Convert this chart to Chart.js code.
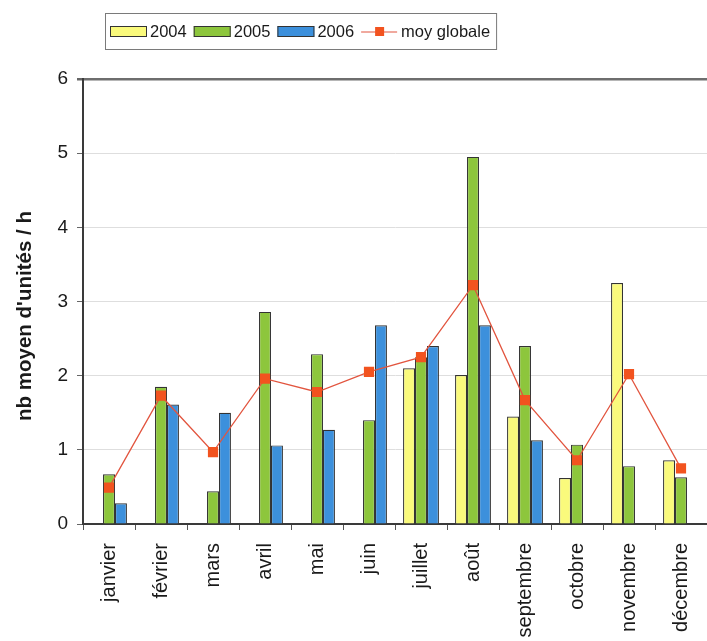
<!DOCTYPE html>
<html lang="fr">
<head>
<meta charset="utf-8">
<title>nb moyen d'unités / h</title>
<script src="https://cdn.jsdelivr.net/npm/chart.js@4/dist/chart.umd.min.js"></script>
<style>
  html, body { margin: 0; padding: 0; background: #ffffff; }
  #wrap { width: 707px; height: 641px; }
</style>
</head>
<body>
<div id="wrap"><canvas id="chart" width="707" height="641"></canvas></div>
<script>
// Mois
const mois = ['janvier', 'février', 'mars', 'avril', 'mai', 'juin', 'juillet',
              'août', 'septembre', 'octobre', 'novembre', 'décembre'];

// Moyennes mensuelles par année (nb moyen d'unités / h)
const annee2004 = [null, null, null, null, null, null, 2.10, 2.01, 1.45, 0.62, 3.25, 0.86];
const annee2005 = [0.67, 1.85, 0.44, 2.86, 2.29, 1.40, 2.25, 4.95, 2.40, 1.07, 0.78, 0.63];
const annee2006 = [0.28, 1.61, 1.50, 1.06, 1.27, 2.68, 2.40, 2.68, 1.13, null, null, null];
const moyGlobale = [0.49, 1.73, 0.97, 1.96, 1.78, 2.05, 2.25, 3.22, 1.67, 0.86, 2.02, 0.75];

// Graduations de l'axe vertical
const yTicks = [0, 1, 2, 3, 4, 5, 6];

const FONT = "'Liberation Sans', Arial, Helvetica, sans-serif";
const TEXT = '#1a1a1a';

// Légende encadrée dessinée sur le canvas
const cadreLegende = {
  id: 'cadreLegende',
  afterDraw(chart) {
    const ctx = chart.ctx;
    const left = 105, top = 13, h = 36;
    const cy = top + h / 2;
    ctx.save();
    ctx.font = '16.5px ' + FONT;
    ctx.textBaseline = 'middle';
    let x = left + 5;
    const items = chart.data.datasets.slice().sort((a, b) => a.legendIndex - b.legendIndex);
    items.forEach((ds, i) => {
      if (ds.type === 'line') {
        ctx.strokeStyle = ds.borderColor;
        ctx.lineWidth = 1.2;
        ctx.beginPath();
        ctx.moveTo(x, cy + 1);
        ctx.lineTo(x + 36, cy + 1);
        ctx.stroke();
        ctx.fillStyle = ds.pointBackgroundColor;
        ctx.fillRect(x + 14, cy - 4, 9, 9);
      } else {
        ctx.fillStyle = ds.backgroundColor;
        ctx.fillRect(x, cy - 5, 37, 11);
        ctx.strokeStyle = ds.borderColor;
        ctx.lineWidth = 1;
        ctx.strokeRect(x + 0.5, cy - 4.5, 36, 10);
      }
      x += 40;
      ctx.fillStyle = TEXT;
      ctx.fillText(ds.label, x, cy + 1);
      x += ctx.measureText(ds.label).width + (i < items.length - 1 ? 7 : 6);
    });
    ctx.strokeStyle = '#7a7a7a';
    ctx.lineWidth = 1;
    ctx.strokeRect(left + 0.5, top + 0.5, x - left, h);
    ctx.restore();
  }
};

// Titre de l'axe vertical
const titreAxeY = {
  id: 'titreAxeY',
  afterDraw(chart) {
    const ctx = chart.ctx;
    ctx.save();
    ctx.translate(25, 316);
    ctx.rotate(-Math.PI / 2);
    ctx.font = 'bold 20.5px ' + FONT;
    ctx.fillStyle = TEXT;
    ctx.textAlign = 'center';
    ctx.textBaseline = 'middle';
    ctx.fillText("nb moyen d'unités / h", 0, 0);
    ctx.restore();
  }
};

const barStyle = {
  type: 'bar',
  borderColor: '#333333',
  borderWidth: 1.2,
  categoryPercentage: 0.69,
  barPercentage: 1.0,
  order: 2
};

new Chart(document.getElementById('chart'), {
  data: {
    labels: mois,
    datasets: [
      Object.assign({}, barStyle, { label: '2004', data: annee2004, backgroundColor: '#fafa7c', legendIndex: 0 }),
      Object.assign({}, barStyle, { label: '2005', data: annee2005, backgroundColor: '#8dc63c', legendIndex: 1 }),
      Object.assign({}, barStyle, { label: '2006', data: annee2006, backgroundColor: '#3c90dc', legendIndex: 2 }),
      {
        type: 'line',
        label: 'moy globale',
        data: moyGlobale,
        borderColor: '#e2553f',
        borderWidth: 1.3,
        pointStyle: 'rect',
        pointRadius: 7.2,
        pointHoverRadius: 7.2,
        pointBackgroundColor: '#f2531f',
        pointBorderColor: '#f2531f',
        pointBorderWidth: 0,
        tension: 0,
        order: 0,
        legendIndex: 3
      }
    ]
  },
  options: {
    responsive: false,
    animation: false,
    devicePixelRatio: 1,
    layout: { autoPadding: false, padding: { top: 79, left: 0, right: 0, bottom: 0 } },
    plugins: {
      legend: { display: false },
      tooltip: { enabled: false },
      title: { display: false }
    },
    scales: {
      x: {
        offset: true,
        afterFit(scale) {
          scale.height = 117;
          scale.paddingLeft = 0;
          scale.paddingRight = 0;
        },
        grid: {
          offset: true,
          drawOnChartArea: false,
          drawTicks: true,
          tickLength: 6,
          tickColor: '#555555',
          lineWidth: 1
        },
        border: { display: true, color: '#3a3a3a', width: 2 },
        ticks: {
          minRotation: 90,
          maxRotation: 90,
          autoSkip: false,
          padding: 13,
          color: TEXT,
          font: { family: FONT, size: 20 }
        }
      },
      y: {
        min: 0,
        max: 6,
        afterFit(scale) {
          scale.width = 83;
          scale.paddingTop = 0;
          scale.paddingBottom = 0;
        },
        afterBuildTicks(scale) { scale.ticks = yTicks.map(v => ({ value: v })); },
        grid: {
          color: (c) => (c.tick && c.tick.value === 6) ? '#6e6e6e' : '#dedede',
          lineWidth: (c) => (c.tick && c.tick.value === 6) ? 2.5 : 1,
          tickColor: '#666666',
          tickLength: 6,
          drawTicks: true
        },
        border: { display: true, color: '#3a3a3a', width: 2 },
        ticks: {
          padding: 9,
          color: TEXT,
          font: { family: FONT, size: 19 }
        }
      }
    }
  },
  plugins: [cadreLegende, titreAxeY]
});
</script>
</body>
</html>
